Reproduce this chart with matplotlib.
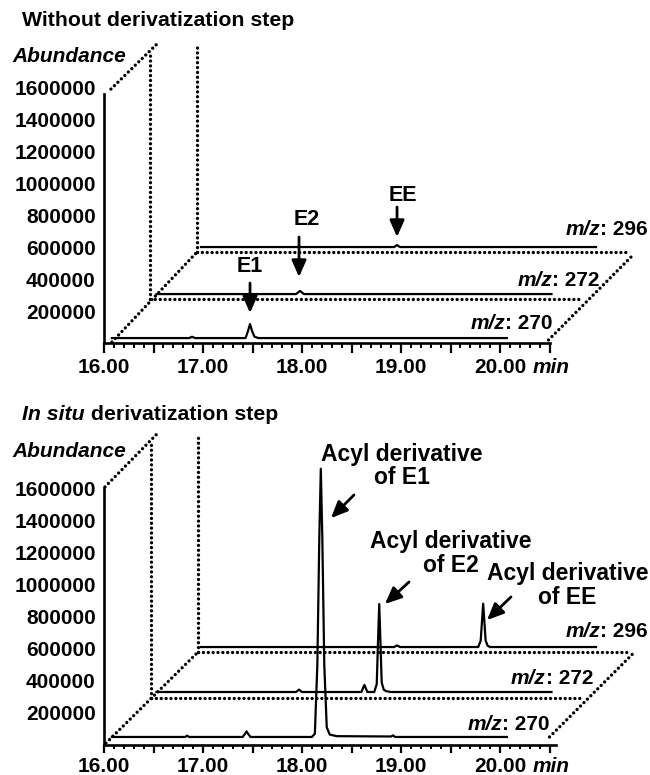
import numpy as np
import matplotlib
matplotlib.use("Agg")
import matplotlib.pyplot as plt

plt.rcParams['font.family'] = ['Liberation Sans', 'DejaVu Sans']
plt.rcParams['font.weight'] = 'bold'

# ---------------- data ----------------
ion_labels = ['270', '272', '296']
y_tick_values = [200000, 400000, 600000, 800000, 1000000, 1200000, 1400000, 1600000]
x_major_ticks = [16.0, 16.5, 17.0, 17.5, 18.0, 18.5, 19.0, 19.5, 20.0, 20.5]
x_tick_labels = ['16.00', '', '17.00', '', '18.00', '', '19.00', '', '20.00', '']
trace_shift_min = 0.45          # apparent retention-time shift per stacked trace

# Panel 1: without derivatization (time in min, intensity above own baseline)
top_270_t = [16.08, 16.86, 16.89, 16.92, 17.43, 17.455, 17.475, 17.495, 17.52, 17.56, 20.07]
top_270_i = [0, 0, 8000, 0, 0, 45000, 88000, 45000, 8000, 0, 0]
top_272_t = [16.08, 17.49, 17.515, 17.53, 17.545, 17.57, 20.07]
top_272_i = [0, 0, 12000, 20000, 12000, 0, 0]
top_296_t = [16.08, 18.03, 18.06, 18.09, 20.07]
top_296_i = [0, 0, 12000, 0, 0]
top_baselines = [31000, 307000, 602000]

# Panel 2: in situ derivatization
bot_270_t = [16.08, 16.82, 16.84, 16.86, 17.40, 17.425, 17.44, 17.455, 17.48, 18.10, 18.13,
             18.155, 18.175, 18.19, 18.205, 18.225, 18.25, 18.28, 18.35, 18.90, 18.92, 18.94, 20.07]
bot_270_i = [0, 0, 8000, 0, 0, 20000, 35000, 20000, 0, 0, 20000,
             450000, 1250000, 1670000, 1250000, 450000, 60000, 15000, 5000, 3000, 10000, 0, 0]
bot_272_t = [16.08, 17.49, 17.52, 17.55, 18.15, 18.17, 18.18, 18.19, 18.21, 18.28, 18.305,
             18.317, 18.33, 18.343, 18.355, 18.375, 18.40, 18.45, 20.07]
bot_272_i = [0, 0, 15000, 0, 0, 30000, 44000, 30000, 0, 0, 50000,
             300000, 548000, 300000, 60000, 15000, 5000, 0, 0]
bot_296_t = [16.08, 18.03, 18.06, 18.09, 18.88, 18.905, 18.918, 18.93, 18.942, 18.955, 18.975, 19.0, 20.07]
bot_296_i = [0, 0, 10000, 0, 0, 40000, 160000, 270000, 160000, 40000, 8000, 0, 0]
bot_baselines = [50000, 330000, 610000]

# ---------------- layout helpers ----------------
W, H = 650, 775
fig = plt.figure(figsize=(6.5, 7.75), dpi=100)

DOT = dict(color='black', lw=2.4, linestyle=(0, (0.01, 1.45)), dash_capstyle='round',
           clip_on=False, zorder=1)
TICKFS = 15
LABFS = 15


def make_axes(top_px, y0_px, px_per_M, x16_px=104, right_px=645, px_per_min=99.0):
    left = x16_px / W
    width = (right_px - x16_px) / W
    bottom = 1 - y0_px / H
    height = (y0_px - top_px) / H
    ax = fig.add_axes([left, bottom, width, height])
    ax.set_xlim(16.0, 16.0 + (right_px - x16_px) / px_per_min)
    ax.set_ylim(0, (y0_px - top_px) / px_per_M * 1e6)
    ax.patch.set_visible(False)
    for s in ('top', 'right'):
        ax.spines[s].set_visible(False)
    for s in ('left', 'bottom'):
        ax.spines[s].set_linewidth(1.9)
    return ax


def style_ticks(ax, major_len, minor_len, pad, ytop, xend):
    ax.set_xticks(x_major_ticks)
    ax.set_xticklabels(x_tick_labels)
    ax.set_xticks(np.arange(16.0, 20.51, 0.1), minor=True)
    ax.set_yticks(y_tick_values)
    ax.set_yticklabels([str(v) for v in y_tick_values])
    ax.tick_params(axis='x', which='major', length=major_len, width=1.6, pad=pad,
                   labelsize=TICKFS, direction='out')
    ax.tick_params(axis='x', which='minor', length=minor_len, width=1.4, direction='out')
    ax.tick_params(axis='y', length=0, pad=6.0, labelsize=TICKFS)
    for lab in ax.get_xticklabels() + ax.get_yticklabels():
        lab.set_fontweight('bold')
    ax.spines['bottom'].set_bounds(16.0, xend)
    ax.spines['left'].set_bounds(0, ytop)


def draw_traces(ax, traces, baselines):
    for k, (t, i) in enumerate(traces):
        x = np.array(t) + k * trace_shift_min
        y = np.array(i) + baselines[k]
        ax.plot(x, y, color='black', lw=1.6, clip_on=False, zorder=3, solid_joinstyle='round')


def draw_frame(ax, floor_y, left_x, right_x, wall_tops, top_diag, left_diag_start, right_diag):
    for k in (1, 2):
        ax.plot([left_x[k], right_x[k]], [floor_y[k], floor_y[k]], **DOT)
        ax.plot([left_x[k], left_x[k]], [floor_y[k], wall_tops[k]], **DOT)
    ax.plot([left_diag_start[0], left_x[2]], [left_diag_start[1], floor_y[2]], **DOT)
    ax.plot(*zip(*right_diag), **DOT)
    ax.plot(*zip(*top_diag), **DOT)


def mz_label(ax, x, y, ion):
    t2 = ax.text(x, y, ': ' + ion, ha='right', va='center', fontsize=LABFS,
                 fontweight='bold', clip_on=False, zorder=5)
    ax.annotate('m/z', xy=(0, 0), xycoords=t2, ha='right', va='bottom', fontsize=LABFS,
                fontweight='bold', style='italic', annotation_clip=False)


def arrow(ax, start, end):
    ax.annotate('', xy=end, xytext=start, annotation_clip=False,
                arrowprops=dict(arrowstyle='-|>,head_length=0.5,head_width=0.22',
                                mutation_scale=20, lw=2.0, color='black',
                                shrinkA=0, shrinkB=0))


# ---------------- panel 1 ----------------
ax1 = make_axes(top_px=30, y0_px=343, px_per_M=159.4)
style_ticks(ax1, major_len=7.0, minor_len=3.4, pad=4.0, ytop=1560000, xend=20.5)
draw_frame(ax1,
           floor_y=[0, 276000, 571000],
           left_x=[16.0, 16.465, 16.94],
           right_x=[20.5, 20.81, 21.29],
           wall_tops=[0, 1826000, 1882000],
           top_diag=[(16.07, 1593000), (16.545, 1882000)],
           left_diag_start=(16.08, 6000),
           right_diag=[(20.49, 19000), (21.35, 556000)])
draw_traces(ax1, [(top_270_t, top_270_i), (top_272_t, top_272_i), (top_296_t, top_296_i)],
            top_baselines)
for (x, y), ion in zip([(21.495, 709000), (21.01, 395000), (20.535, 125000)],
                       ['296', '272', '270']):
    mz_label(ax1, x, y, ion)

for name, (lx, ly), ax_x, (ys, ye) in [
        ('E1', (17.475, 477000), 17.475, (376000, 188000)),
        ('E2', (18.05, 772000), 17.97, (665000, 414000)),
        ('EE', (19.02, 928000), 18.96, (853000, 665000))]:
    ax1.text(lx, ly, name, ha='center', va='center', fontsize=15.5, fontweight='bold',
             clip_on=False)
    arrow(ax1, (ax_x, ys), (ax_x, ye))

ax1.text(16.0 - 92 / 99, 1796000, 'Abundance', ha='left', va='center', fontsize=15,
         fontweight='bold', style='italic', clip_on=False)
ax1.annotate('min', xy=(20.33, 0), xycoords=('data', 'axes fraction'),
             xytext=(0, -24), textcoords='offset pixels', ha='left', va='center',
             fontsize=15, fontweight='bold', style='italic', annotation_clip=False)
fig.text(22 / W, 1 - 20 / H, 'Without derivatization step', ha='left', va='center',
         fontsize=15.3, fontweight='bold')

# ---------------- panel 2 ----------------
ax2 = make_axes(top_px=425, y0_px=745, px_per_M=160.6)
style_ticks(ax2, major_len=6.0, minor_len=3.0, pad=2.5, ytop=1600000, xend=20.57)
draw_frame(ax2,
           floor_y=[0, 293000, 579000],
           left_x=[16.0, 16.475, 16.95],
           right_x=[20.5, 20.81, 21.29],
           wall_tops=[0, 1887000, 1943000],
           top_diag=[(16.01, 1607000), (16.545, 1943000)],
           left_diag_start=(16.02, 12000),
           right_diag=[(20.5, 50000), (21.35, 573000)])
draw_traces(ax2, [(bot_270_t, bot_270_i), (bot_272_t, bot_272_i), (bot_296_t, bot_296_i)],
            bot_baselines)
for (x, y), ion in zip([(21.495, 704000), (20.94, 417000), (20.505, 125000)],
                       ['296', '272', '270']):
    mz_label(ax2, x, y, ion)

for text, (lx, ly), start, end in [
        ('Acyl derivative\nof E1', (19.01, 1737000), (18.525, 1557000), (18.293, 1413000)),
        ('Acyl derivative\nof E2', (19.505, 1192000), (19.081, 1015000), (18.838, 878000)),
        ('Acyl derivative\nof EE', (20.68, 993000), (20.111, 922000), (19.869, 778000))]:
    ax2.text(lx, ly, text, ha='center', va='center', multialignment='center',
             fontsize=16.5, fontweight='bold', linespacing=1.05, clip_on=False, zorder=6)
    arrow(ax2, start, end)

ax2.text(16.0 - 92 / 99, 1830000, 'Abundance', ha='left', va='center', fontsize=15,
         fontweight='bold', style='italic', clip_on=False)
ax2.annotate('min', xy=(20.33, 0), xycoords=('data', 'axes fraction'),
             xytext=(0, -21), textcoords='offset pixels', ha='left', va='center',
             fontsize=15, fontweight='bold', style='italic', annotation_clip=False)
t_in = fig.text(22 / W, 1 - 415 / H, 'In situ', ha='left', va='center',
                fontsize=15.3, fontweight='bold', style='italic')
ax2.annotate(' derivatization step', xy=(1, 0), xycoords=t_in,
             ha='left', va='bottom', fontsize=15.3, fontweight='bold',
             annotation_clip=False)

fig.savefig('out.png', dpi=100)
